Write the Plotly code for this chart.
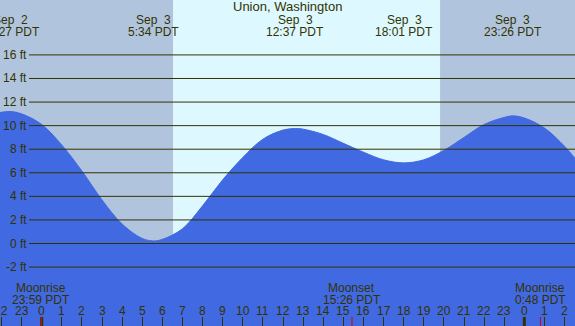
import plotly.graph_objects as go

# ---- data (hours relative to Sep 3 00:00 PDT, heights in ft) ----
tide_hours = [-2.074, -1.55, -1, 0, 1, 2, 3, 4, 5, 5.57, 6, 7, 8, 9, 10, 11, 12, 12.62, 13, 14, 15,
              16, 17, 18.02, 19, 20, 21, 22, 23, 23.43, 24, 25, 26, 26.52]
tide_ft = [11.12, 11.2, 11.0, 10.1, 8.35, 6.15, 3.7, 1.65, 0.43, 0.22, 0.35, 1.25, 3.2, 5.4, 7.3, 8.85,
           9.62, 9.75, 9.7, 9.25, 8.5, 7.75, 7.1, 6.84, 7.1, 7.9, 9.0, 10.1, 10.7, 10.83, 10.65,
           9.8, 8.25, 7.22]

event_hours = [-1.55, 5.57, 12.62, 18.02, 23.43]
event_day = ["Sep  2", "Sep  3", "Sep  3", "Sep  3", "Sep  3"]
event_time = ["22:27 PDT", "5:34 PDT", "12:37 PDT", "18:01 PDT", "23:26 PDT"]

moon_hours = [-0.017, 15.43, 24.8]
moon_name = ["Moonrise", "Moonset", "Moonrise"]
moon_time = ["23:59 PDT", "15:26 PDT", "0:48 PDT"]

sunrise_h = 6.53
sunset_h = 19.81

y_ticks = [16, 14, 12, 10, 8, 6, 4, 2, 0, -2]
y_labels = ["16 ft", "14 ft", "12 ft", "10 ft", "8 ft", "6 ft", "4 ft", "2 ft", "0 ft", "-2 ft"]

hour_ticks = list(range(-2, 27))
hour_labels = [str(h % 24) for h in hour_ticks]
midnights = [0, 24]

title = "Union, Washington"

# ---- style ----
W, H = 575, 326
NIGHT = "#B0C4DE"
DAY = "#DDF8FF"
WATER = "#4169E1"
INK = "#333300"
FONT = "Liberation Sans"
XR = [-2.074, 26.52]
YR = [-7.0, 20.66]


def py(p):
    return 1 - p / H


fig = go.Figure()
fig.add_trace(go.Scatter(x=[XR[0] - 1, XR[1] + 1], y=[YR[0] - 5, YR[0] - 5], mode="lines",
                         line=dict(width=0), hoverinfo="skip", showlegend=False))
fig.add_trace(go.Scatter(x=tide_hours, y=tide_ft, mode="lines",
                         line=dict(color=WATER, width=1, shape="spline", smoothing=1),
                         fill="tonexty", fillcolor=WATER, hoverinfo="skip", showlegend=False))

shapes = []
shapes.append(dict(type="rect", xref="x", yref="paper", x0=sunrise_h, x1=sunset_h, y0=0, y1=1,
                   fillcolor=DAY, line=dict(width=0), layer="below"))
for v in y_ticks:
    shapes.append(dict(type="line", xref="paper", yref="y", x0=29 / W, x1=1, y0=v, y1=v,
                       line=dict(color=INK, width=1), layer="above"))
for m in midnights:
    shapes.append(dict(type="line", xref="x", yref="paper", x0=m, x1=m, y0=0, y1=9 / H,
                       line=dict(color=INK, width=3), layer="above"))
for m in moon_hours:
    shapes.append(dict(type="line", xref="x", yref="paper", x0=m, x1=m, y0=0, y1=9 / H,
                       line=dict(color="#DD0000", width=1), layer="above"))

ann = []
f = dict(family=FONT, size=12, color=INK)


def add(text, x, y, xref="x", yref="paper", xanchor="center", font=f):
    ann.append(dict(text=text, xref=xref, yref=yref, x=x, y=y, showarrow=False, borderpad=0,
                    xanchor=xanchor, yanchor="middle", font=font))


add(title, 287 / W, py(7), xref="paper", font=dict(family=FONT, size=13, color=INK))
for h, d, t in zip(event_hours, event_day, event_time):
    add(d, h, py(20))
    add(t, h, py(32))
for h, n, t in zip(moon_hours, moon_name, moon_time):
    add(n, h, py(288))
    add(t, h, py(299.5))
for h, lab in zip(hour_ticks, hour_labels):
    add(lab, h, py(311))
for v, lab in zip(y_ticks, y_labels):
    add(lab, 27.5 / W, v, xref="paper", yref="y", xanchor="right")

fig.update_layout(
    width=W, height=H, margin=dict(l=0, r=0, t=0, b=0),
    plot_bgcolor=NIGHT, paper_bgcolor=NIGHT,
    shapes=shapes, annotations=ann, showlegend=False,
    xaxis=dict(range=XR, showgrid=False, zeroline=False, showticklabels=False,
               tickvals=hour_ticks, ticks="inside", ticklen=9, tickwidth=1, tickcolor=INK,
               showline=False, fixedrange=True),
    yaxis=dict(range=YR, showgrid=False, zeroline=False, showticklabels=False,
               showline=False, fixedrange=True),
)
fig.write_html("out.html", config=dict(displayModeBar=False),
               post_script="document.body.style.margin='0';document.body.style.overflow='hidden';")
